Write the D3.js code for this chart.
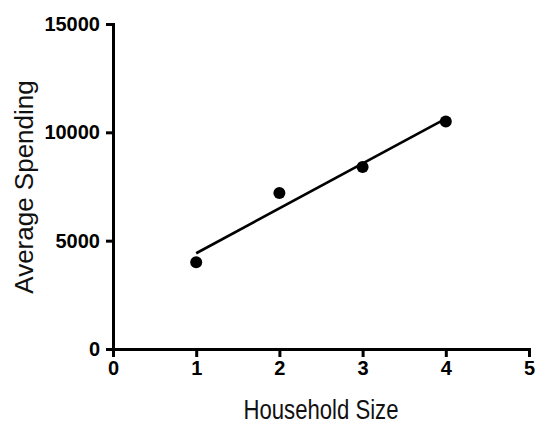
<!DOCTYPE html>
<html>
<head>
<meta charset="utf-8">
<script src="https://cdn.jsdelivr.net/npm/d3@7"></script>
<style>
  html, body { margin: 0; padding: 0; background: #fff; }
  svg { display: block; }
  text { font-family: "Liberation Sans", Arial, Helvetica, sans-serif; }
</style>
</head>
<body>
<script>
const householdSize = [1, 2, 3, 4];
const avgSpending = [4000, 7200, 8400, 10500];
const xTicks = [0, 1, 2, 3, 4, 5];
const yTicks = [0, 5000, 10000, 15000];
const xLabel = "Household Size";
const yLabel = "Average Spending";

const W = 535, H = 424;
const svg = d3.select("body").append("svg").attr("width", W).attr("height", H);

const x = d3.scaleLinear().domain([0, 5]).range([113, 529]);
const y = d3.scaleLinear().domain([0, 15000]).range([349, 24]);

// linear regression
const n = householdSize.length;
const mx = d3.mean(householdSize), my = d3.mean(avgSpending);
let sxy = 0, sxx = 0;
for (let i = 0; i < n; i++) {
  sxy += (householdSize[i] - mx) * (avgSpending[i] - my);
  sxx += (householdSize[i] - mx) ** 2;
}
const slope = sxy / sxx, intercept = my - slope * mx;
const x0 = d3.min(householdSize), x1 = d3.max(householdSize);

// axes
const yAxis = svg.append("g").attr("transform", `translate(${x(0)},0)`)
  .call(d3.axisLeft(y).tickValues(yTicks).tickSize(7).tickPadding(6).tickSizeOuter(0).tickFormat(d3.format("d")));
const xAxis = svg.append("g").attr("transform", `translate(0,${y(0)})`)
  .call(d3.axisBottom(x).tickValues(xTicks).tickSize(8).tickPadding(4).tickSizeOuter(0).tickFormat(d3.format("d")));

[xAxis, yAxis].forEach(g => {
  g.select(".domain").attr("stroke", "#000").attr("stroke-width", 3);
  g.selectAll(".tick line").attr("stroke", "#000").attr("stroke-width", 3);
  g.selectAll(".tick text").attr("fill", "#000").attr("font-size", 20).attr("font-weight", "bold")
    .attr("font-family", "'Liberation Sans', Arial, sans-serif");
});
// extend domain lines slightly so corners are square
xAxis.select(".domain").attr("stroke-linecap", "square");
yAxis.select(".domain").attr("stroke-linecap", "square");

// regression line
svg.append("line")
  .attr("x1", x(x0)).attr("y1", y(intercept + slope * x0))
  .attr("x2", x(x1)).attr("y2", y(intercept + slope * x1))
  .attr("stroke", "#000").attr("stroke-width", 2.6);

// points
svg.selectAll("circle.pt").data(householdSize).enter().append("circle")
  .attr("class", "pt")
  .attr("cx", d => x(d))
  .attr("cy", (d, i) => y(avgSpending[i]))
  .attr("r", 6).attr("fill", "#000");

// axis titles
svg.append("text")
  .attr("x", 321).attr("y", 419)
  .attr("text-anchor", "middle")
  .attr("font-size", 27)
  .attr("textLength", 155).attr("lengthAdjust", "spacingAndGlyphs")
  .attr("fill", "#111")
  .text(xLabel);

svg.append("text")
  .attr("transform", "translate(33,187) rotate(-90)")
  .attr("text-anchor", "middle")
  .attr("font-size", 26)
  .attr("fill", "#111")
  .text(yLabel);
</script>
</body>
</html>
